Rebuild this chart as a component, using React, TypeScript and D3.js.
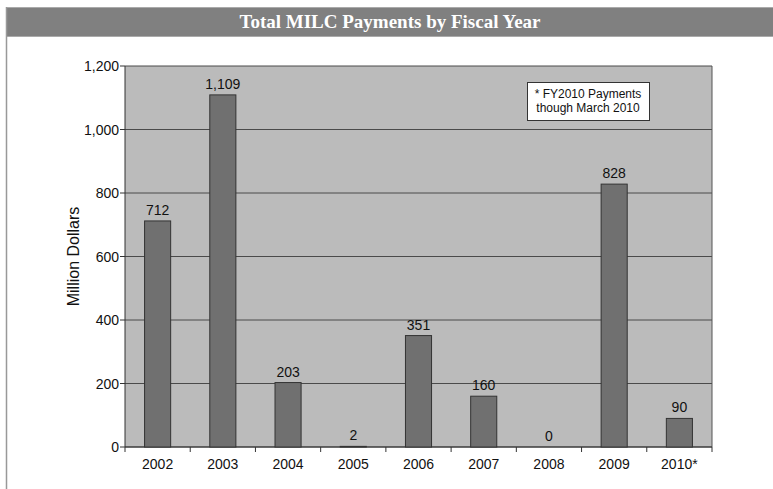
import React from "react";
import * as d3 from "d3";

const categories = ["2002", "2003", "2004", "2005", "2006", "2007", "2008", "2009", "2010*"];
const payments = [712, 1109, 203, 2, 351, 160, 0, 828, 90];
const valueLabels = ["712", "1,109", "203", "2", "351", "160", "0", "828", "90"];
const yTicks = [0, 200, 400, 600, 800, 1000, 1200];
const title = "Total MILC Payments by Fiscal Year";
const yTitle = "Million Dollars";
const noteLines = ["* FY2010 Payments", "though March 2010"];

export default function App() {
  const W = 773, H = 489;
  const left = 125, right = 712, top = 66, bottom = 447;
  const x = d3.scaleBand<string>().domain(categories).range([left, right]).paddingInner(0.6).paddingOuter(0.3);
  const band = d3.scaleBand<string>().domain(categories).range([left, right]);
  const y = d3.scaleLinear().domain([0, 1200]).range([bottom, top]);
  const fmt = d3.format(",");
  const sans = "'Liberation Sans', Arial, sans-serif";
  return (
    <svg width={W} height={H} style={{ position: "absolute", left: 0, top: 0, background: "#fff" }}>
      <rect x={6} y={7} width={W - 6} height={30} fill="#808080" />
      <line x1={6} x2={W} y1={7.5} y2={7.5} stroke="#aaa" strokeWidth={1} />
      <line x1={6} x2={W} y1={36.5} y2={36.5} stroke="#aaa" strokeWidth={1} />
      <line x1={6.5} x2={6.5} y1={7} y2={H} stroke="#999" strokeWidth={1.5} />
      <text x={390} y={28} textAnchor="middle" fill="#fff" fontFamily="'Liberation Serif', 'Times New Roman', serif" fontWeight="bold" fontSize={19}>{title}</text>

      <rect x={left} y={top} width={right - left} height={bottom - top} fill="#bbbbbb" />
      {yTicks.map((t) => (
        <g key={t}>
          <line x1={left} x2={right} y1={y(t)} y2={y(t)} stroke="#4a4a4a" strokeWidth={1} />
          <line x1={left - 5} x2={left} y1={y(t)} y2={y(t)} stroke="#333" strokeWidth={1} />
          <text x={left - 6} y={y(t) + 5} textAnchor="end" fontFamily={sans} fontSize={14} fill="#111">{fmt(t)}</text>
        </g>
      ))}
      <line x1={right} x2={right} y1={top} y2={bottom} stroke="#555" strokeWidth={1} />
      <line x1={left} x2={left} y1={top} y2={bottom} stroke="#333" strokeWidth={1} />
      <line x1={left} x2={right} y1={bottom} y2={bottom} stroke="#333" strokeWidth={1} />
      {categories.map((c, i) => (
        <line key={"tk" + c} x1={band(c)! + band.bandwidth()} x2={band(c)! + band.bandwidth()} y1={bottom} y2={bottom + 5} stroke="#333" />
      ))}
      <line x1={left} x2={left} y1={bottom} y2={bottom + 5} stroke="#333" />
      {categories.map((c, i) => (
        <g key={c}>
          <rect x={x(c)!} y={y(payments[i])} width={x.bandwidth()} height={bottom - y(payments[i])} fill="#707070" stroke="#333" strokeWidth={1} />
          <text x={x(c)! + x.bandwidth() / 2} y={y(payments[i]) - 6} textAnchor="middle" fontFamily={sans} fontSize={14} fill="#111">{valueLabels[i]}</text>
          <text x={band(c)! + band.bandwidth() / 2} y={bottom + 22} textAnchor="middle" fontFamily={sans} fontSize={14} fill="#111">{c}</text>
        </g>
      ))}
      <text transform={`translate(79, ${(top + bottom) / 2}) rotate(-90)`} textAnchor="middle" fontFamily={sans} fontSize={16} fill="#111">{yTitle}</text>
      <rect x={527.5} y={82.5} width={122} height={38} fill="#fff" stroke="#333" strokeWidth={1} />
      {noteLines.map((l, i) => (
        <text key={l} x={588} y={98 + i * 14} textAnchor="middle" fontFamily={sans} fontSize={12} fill="#111">{l}</text>
      ))}
    </svg>
  );
}
